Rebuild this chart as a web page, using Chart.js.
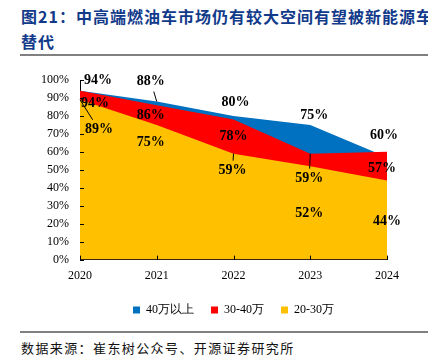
<!DOCTYPE html>
<html>
<head>
<meta charset="utf-8">
<script src="https://cdn.jsdelivr.net/npm/chart.js@4/dist/chart.umd.min.js"></script>
<style>
    body { margin: 0; width: 428px; height: 360px; position: relative; background: #fff; overflow: hidden; }
    #title { position: absolute; left: 21px; top: 4px; font: bold 16px "Noto Sans CJK SC"; color: #123a8a; line-height: 25px; letter-spacing: 1px; white-space: nowrap; }
    .rule { position: absolute; left: 20px; right: 0; height: 2px; background: #808080; }
    #source { position: absolute; left: 21px; top: 338px; font: 13px "Noto Sans CJK SC"; letter-spacing: 1.4px; color: #111; white-space: nowrap; }
    #wrap { position: absolute; left: 0; top: 58px; }
</style>
</head>
<body>
<div id="title">图21：中高端燃油车市场仍有较大空间有望被新能源车<br>替代</div>
<div class="rule" style="top:54px"></div>
<div id="wrap"><canvas id="chart" width="428" height="268"></canvas></div>
<div class="rule" style="top:331px"></div>
<div id="source">数据来源：崔东树公众号、开源证券研究所</div>

<script>
// ============================================================
// DONNÉES
// ============================================================
const years = ["2020", "2021", "2022", "2023", "2024"];
const seriesNames = ["40万以上", "30-40万", "20-30万"];
const above40 = [94, 88, 80, 75, 57];
const mid3040 = [94, 86, 78, 59, 60];
const low2030 = [89, 75, 59, 52, 44];
const yTicks = [0, 10, 20, 30, 40, 50, 60, 70, 80, 90, 100];

// position des étiquettes (décalage en px depuis le point) + trait de rappel
const labelOffsets = [
    [[18, -10], [-6, -20, 1], [2, -14], [4, -10], [-5, 11]],
    [[15, 13], [-6, 10], [0, 17], [-1, 25, 1], [-3, -16]],
    [[19, 30, 1], [-6, 17], [-1, 17, 1], [-1, 47], [0, 41]]
];

const serif = "'Liberation Serif', 'Times New Roman', serif";

// étiquettes de valeurs
const valueLabels = {
    id: "valueLabels",
    afterDatasetsDraw(chart) {
        const ctx = chart.ctx;
        const xs = chart.scales.x, ys = chart.scales.y;
        ctx.save();
        ctx.font = "bold 14px " + serif;
        ctx.textAlign = "center";
        ctx.textBaseline = "middle";
        chart.data.datasets.forEach((ds, d) => {
            ds.data.forEach((v, i) => {
                const px = xs.getPixelForValue(i);
                const py = ys.getPixelForValue(v);
                const off = labelOffsets[d][i];
                const lx = px + off[0], ly = py + off[1];
                if (off[2]) {
                    const k = 1 - 10 / Math.abs(off[1]);
                    ctx.strokeStyle = "#000";
                    ctx.lineWidth = 1;
                    ctx.beginPath();
                    ctx.moveTo(px, py);
                    ctx.lineTo(px + off[0] * k, py + off[1] * k);
                    ctx.stroke();
                }
                ctx.fillStyle = "#000";
                ctx.fillText(v + "%", lx, ly);
            });
        });
        ctx.restore();
    }
};

// petits traits de graduation vers l'intérieur
const innerTicks = {
    id: "innerTicks",
    afterDraw(chart) {
        const ctx = chart.ctx;
        const xs = chart.scales.x, ys = chart.scales.y;
        const a = chart.chartArea;
        ctx.save();
        ctx.strokeStyle = "#000";
        ctx.lineWidth = 1;
        ctx.beginPath();
        yTicks.forEach(t => {
            const y = Math.round(ys.getPixelForValue(t)) + 0.5;
            ctx.moveTo(a.left, y);
            ctx.lineTo(a.left + 4, y);
        });
        years.forEach((yr, i) => {
            const x = Math.round(xs.getPixelForValue(i)) + 0.5;
            ctx.moveTo(x, a.bottom);
            ctx.lineTo(x, a.bottom - 4);
        });
        ctx.stroke();
        ctx.restore();
    }
};

function area(label, data, color, order) {
    return {
        label: label,
        data: data,
        backgroundColor: color,
        borderColor: "rgba(0,0,0,0)",
        borderWidth: 0,
        pointRadius: 0,
        fill: "origin",
        tension: 0,
        order: order
    };
}

new Chart(document.getElementById("chart"), {
    type: "line",
    data: {
        labels: years,
        datasets: [
            area(seriesNames[0], above40, "#0070C0", 2),
            area(seriesNames[1], mid3040, "#FF0000", 1),
            area(seriesNames[2], low2030, "#FFC000", 0)
        ]
    },
    options: {
        responsive: false,
        animation: false,
        layout: { padding: { top: 22, right: 41, left: 0, bottom: 0 } },
        plugins: {
            tooltip: { enabled: false },
            legend: {
                position: "bottom",
                fullSize: false,
                labels: {
                    boxWidth: 7,
                    boxHeight: 7,
                    padding: 17,
                    color: "#000",
                    font: { size: 12, family: serif },
                    sort: (a, b) => a.datasetIndex - b.datasetIndex
                }
            }
        },
        scales: {
            x: {
                offset: false,
                afterFit(scale) { scale.height -= 5; },
                grid: { display: false, drawTicks: false },
                border: { color: "#000", width: 1 },
                ticks: { color: "#000", padding: 9, font: { size: 12, family: serif }, maxRotation: 0 }
            },
            y: {
                min: 0,
                max: 100,
                afterFit(scale) { scale.width = 80; },
                afterBuildTicks(scale) { scale.ticks = yTicks.map(v => ({ value: v })); },
                grid: { display: false, drawTicks: false },
                border: { color: "#000", width: 1 },
                ticks: { color: "#000", padding: 11, autoSkip: false, font: { size: 12, family: serif }, callback: v => v + "%" }
            }
        }
    },
    plugins: [valueLabels, innerTicks]
});
</script>
</body>
</html>
